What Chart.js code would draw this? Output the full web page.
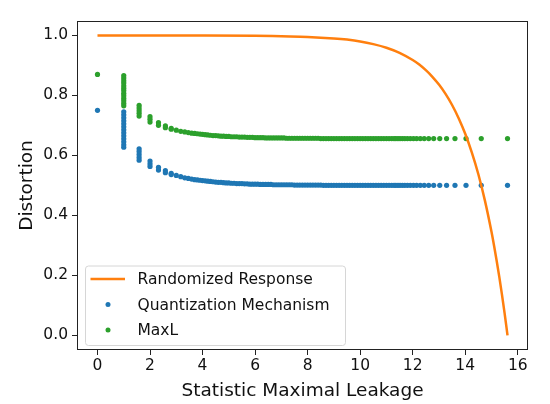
<!DOCTYPE html>
<html>
<head>
<meta charset="utf-8">
<script src="https://cdn.jsdelivr.net/npm/chart.js@4.4.1/dist/chart.umd.min.js"></script>
<style>
  html, body { margin: 0; padding: 0; background: #fff; }
  #wrap { width: 550px; height: 404px; }
</style>
</head>
<body>
<div id="wrap"><canvas id="myChart" width="550" height="404"></canvas></div>
<script>
'use strict';

// values

// Randomized Response curve
let rrX = [0, 2, 4, 6, 7, 8, 9, 9.5, 10, 10.5, 11, 11.5, 12, 12.25, 12.5, 12.75, 13, 13.25,
  13.5, 13.75, 14, 14.25, 14.5, 14.75, 15, 15.1, 15.2, 15.3, 15.4, 15.5, 15.61];
let rrY = [1.0, 1.0, 1.0, 0.999, 0.997, 0.995, 0.990, 0.986, 0.980, 0.971, 0.959, 0.942, 0.918, 0.903,
  0.884, 0.862, 0.836, 0.805, 0.768, 0.724, 0.672, 0.610, 0.537, 0.449, 0.345, 0.298, 0.247, 0.193,
  0.135, 0.073, 0.0];

// leakage values shared by both scatter series
let leakX = [
  0,
  1, 1, 1, 1, 1, 1, 1, 1, 1, 1, 1, 1, 1,
  1.585, 1.585, 1.585, 1.585, 1.585,
  2, 2, 2,
  2.322, 2.322, 2.585, 2.585, 2.807, 2.807,
  3, 3.17, 3.322, 3.459, 3.585, 3.7, 3.807, 3.907, 4.0,
  4.1, 4.2, 4.3, 4.4, 4.5, 4.6, 4.7, 4.8, 4.9, 5.0,
  5.1, 5.2, 5.3, 5.4, 5.5, 5.6, 5.7, 5.8, 5.9, 6.0,
  6.1, 6.2, 6.3, 6.4, 6.5, 6.6, 6.7, 6.8, 6.9, 7.0,
  7.1, 7.2, 7.3, 7.4, 7.5, 7.6, 7.7, 7.8, 7.9, 8.0,
  8.1, 8.2, 8.3, 8.4, 8.5, 8.6, 8.7, 8.8, 8.9, 9.0,
  9.1, 9.2, 9.3, 9.4, 9.5, 9.6, 9.7, 9.8, 9.9, 10.0,
  10.1, 10.2, 10.3, 10.4, 10.5, 10.6, 10.7, 10.8, 10.9, 11.0,
  11.1, 11.2,
  11.29, 11.36, 11.44, 11.52, 11.61, 11.70, 11.80, 11.91, 12.03, 12.15,
  12.29, 12.44, 12.61, 12.80, 13.03, 13.29, 13.61, 14.03, 14.61, 15.61
];

// Quantization Mechanism distortion
let quantY = [
  0.75,
  0.745, 0.735, 0.725, 0.715, 0.705, 0.695, 0.685, 0.675, 0.665, 0.655, 0.645, 0.635, 0.627,
  0.622, 0.613, 0.603, 0.593, 0.584,
  0.581, 0.572, 0.563,
  0.560, 0.551, 0.549, 0.542, 0.540, 0.536,
  0.533, 0.529, 0.525, 0.523, 0.521, 0.519, 0.518, 0.517, 0.516,
  0.515, 0.514, 0.513, 0.512, 0.511, 0.510, 0.510, 0.509, 0.508, 0.508,
  0.507, 0.507, 0.506, 0.506, 0.506, 0.505, 0.505, 0.504, 0.504, 0.504,
  0.504, 0.503, 0.503, 0.503, 0.503, 0.503, 0.502, 0.502, 0.502, 0.502,
  0.502, 0.502, 0.502, 0.502, 0.501, 0.501, 0.501, 0.501, 0.501, 0.501,
  0.501, 0.501, 0.501, 0.501, 0.501, 0.500, 0.500, 0.500, 0.500, 0.500,
  0.500, 0.500, 0.500, 0.500, 0.500, 0.500, 0.500, 0.500, 0.500, 0.500,
  0.500, 0.500, 0.500, 0.500, 0.500, 0.500, 0.500, 0.500, 0.500, 0.500,
  0.500, 0.500,
  0.500, 0.500, 0.500, 0.500, 0.500, 0.500, 0.500, 0.500, 0.500, 0.500,
  0.500, 0.500, 0.500, 0.500, 0.500, 0.500, 0.500, 0.500, 0.500, 0.500
];

// MaxL distortion
let maxlY = [
  0.870,
  0.866, 0.858, 0.849, 0.841, 0.832, 0.824, 0.816, 0.807, 0.799, 0.790, 0.782, 0.773, 0.765,
  0.767, 0.758, 0.749, 0.740, 0.731,
  0.729, 0.720, 0.711,
  0.709, 0.700, 0.698, 0.692, 0.690, 0.687,
  0.684, 0.680, 0.678, 0.676, 0.674, 0.673, 0.672, 0.671, 0.670,
  0.669, 0.668, 0.667, 0.666, 0.666, 0.665, 0.664, 0.664, 0.663, 0.663,
  0.662, 0.662, 0.662, 0.661, 0.661, 0.661, 0.660, 0.660, 0.660, 0.659,
  0.659, 0.659, 0.659, 0.658, 0.658, 0.658, 0.658, 0.658, 0.658, 0.658,
  0.658, 0.657, 0.657, 0.657, 0.657, 0.657, 0.657, 0.657, 0.657, 0.657,
  0.657, 0.657, 0.657, 0.657, 0.656, 0.656, 0.656, 0.656, 0.656, 0.656,
  0.656, 0.656, 0.656, 0.656, 0.656, 0.656, 0.656, 0.656, 0.656, 0.656,
  0.656, 0.656, 0.656, 0.656, 0.656, 0.656, 0.656, 0.656, 0.656, 0.656,
  0.656, 0.656,
  0.656, 0.656, 0.656, 0.656, 0.656, 0.656, 0.656, 0.656, 0.656, 0.656,
  0.656, 0.656, 0.656, 0.656, 0.656, 0.656, 0.656, 0.656, 0.656, 0.656
];

let xTicks = [0, 2, 4, 6, 8, 10, 12, 14, 16];
let yTicks = [0.0, 0.2, 0.4, 0.6, 0.8, 1.0];

let seriesNames = ['Randomized Response', 'Quantization Mechanism', 'MaxL'];
let seriesColors = ['#ff7f0e', '#1f77b4', '#2ca02c'];

let fontFamily = '"DejaVu Sans", sans-serif';

function toPoints(xs, ys) {
  return xs.map((x, i) => ({ x: x, y: ys[i] }));
}

// spines on all four sides + matplotlib-like legend in the lower left corner
let frameAndLegend = {
  id: 'frameAndLegend',
  afterDatasetsDraw(chart) {
    let ctx = chart.ctx;
    let a = chart.chartArea;
    ctx.save();
    ctx.strokeStyle = '#222';
    ctx.lineWidth = 1;
    ctx.strokeRect(Math.round(a.left) + 0.5, Math.round(a.top) + 0.5,
      Math.round(a.right - a.left) - 1, Math.round(a.bottom - a.top) - 1);

    let boxX = a.left + 8.5;
    let boxY = a.bottom - 84;
    let boxW = 260;
    let boxH = 79.5;
    ctx.beginPath();
    ctx.roundRect(boxX, boxY, boxW, boxH, 3);
    ctx.fillStyle = 'rgba(255,255,255,0.8)';
    ctx.fill();
    ctx.strokeStyle = '#d6d6d6';
    ctx.stroke();

    ctx.font = '15.5px ' + fontFamily;
    ctx.textBaseline = 'middle';
    ctx.textAlign = 'left';
    for (let i = 0; i < chart.data.datasets.length; i++) {
      let ds = chart.data.datasets[i];
      let rowY = boxY + 13 + i * 25.5;
      if (i === 0) {
        ctx.strokeStyle = ds.borderColor;
        ctx.lineWidth = 2.5;
        ctx.beginPath();
        ctx.moveTo(boxX + 5, rowY);
        ctx.lineTo(boxX + 39.5, rowY);
        ctx.stroke();
      } else {
        ctx.fillStyle = ds.backgroundColor;
        ctx.beginPath();
        ctx.arc(boxX + 22.5, rowY, 2.5, 0, Math.PI * 2);
        ctx.fill();
      }
      ctx.fillStyle = '#111';
      ctx.fillText(ds.label, boxX + 52, rowY + 1);
    }
    ctx.restore();
  }
};

let ctx = document.getElementById('myChart').getContext('2d');
let myChart = new Chart(ctx, {
  type: 'scatter',
  data: {
    datasets: [{
      type: 'line',
      label: seriesNames[0],
      data: toPoints(rrX, rrY),
      borderColor: seriesColors[0],
      backgroundColor: seriesColors[0],
      borderWidth: 2.5,
      pointRadius: 0,
      fill: false,
      cubicInterpolationMode: 'monotone'
    }, {
      label: seriesNames[1],
      data: toPoints(leakX, quantY),
      backgroundColor: seriesColors[1],
      borderColor: seriesColors[1],
      pointRadius: 2.6,
      pointBorderWidth: 0
    }, {
      label: seriesNames[2],
      data: toPoints(leakX, maxlY),
      backgroundColor: seriesColors[2],
      borderColor: seriesColors[2],
      pointRadius: 2.6,
      pointBorderWidth: 0
    }]
  },
  options: {
    responsive: false,
    animation: false,
    events: [],
    layout: { padding: { top: 21, right: 22, left: 0, bottom: 0 } },
    plugins: {
      legend: { display: false },
      tooltip: { enabled: false }
    },
    scales: {
      x: {
        type: 'linear',
        min: -0.78,
        max: 16.39,
        afterBuildTicks(scale) { scale.ticks = xTicks.map(v => ({ value: v })); },
        afterFit(scale) { scale.height = 54; },
        grid: { drawOnChartArea: false, drawTicks: true, tickLength: 5, color: '#222' },
        border: { display: false },
        ticks: {
          font: { family: fontFamily, size: 15.5 },
          color: '#111',
          padding: 2,
          maxRotation: 0,
          autoSkip: false
        },
        title: {
          display: true,
          text: 'Statistic Maximal Leakage',
          font: { family: fontFamily, size: 18.5 },
          color: '#111',
          padding: { top: 0, bottom: 2 }
        }
      },
      y: {
        type: 'linear',
        min: -0.049,
        max: 1.048,
        afterBuildTicks(scale) { scale.ticks = yTicks.map(v => ({ value: v })); },
        afterFit(scale) { scale.width = 77; },
        grid: { drawOnChartArea: false, drawTicks: true, tickLength: 5, color: '#222' },
        border: { display: false },
        ticks: {
          font: { family: fontFamily, size: 15.5 },
          color: '#111',
          padding: 4,
          callback: v => v.toFixed(1)
        },
        title: {
          display: true,
          text: 'Distortion',
          font: { family: fontFamily, size: 18.5 },
          color: '#111',
          padding: { top: 16, bottom: 0 }
        }
      }
    }
  },
  plugins: [frameAndLegend]
});
</script>
</body>
</html>
